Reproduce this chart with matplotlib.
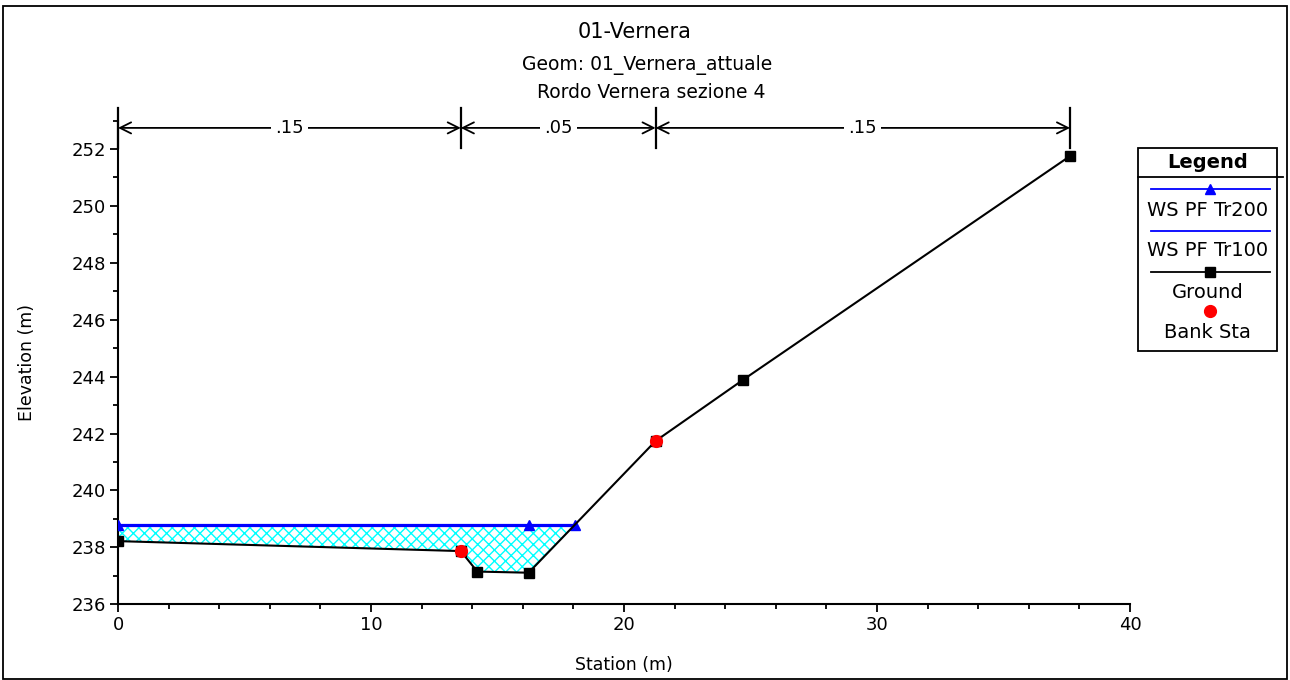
import numpy as np
import matplotlib
matplotlib.use("Agg")
import matplotlib.pyplot as plt
from matplotlib.lines import Line2D
from matplotlib.patches import Rectangle
from matplotlib.transforms import Affine2D
from matplotlib.ticker import MultipleLocator

# ---------------- data ----------------
ground_x = [0.0, 13.55, 14.2, 16.23, 21.25, 24.71, 37.63]
ground_y = [238.22, 237.87, 237.15, 237.11, 241.74, 243.89, 251.75]

bank_x = [13.55, 21.25]
bank_y = [237.87, 241.74]

ws_x = [0.0, 16.23, 18.08]
ws_tr200 = [238.79, 238.79, 238.79]
ws_tr100 = [238.75, 238.75, 238.75]

n_breaks = [0.0, 13.55, 21.25, 37.63]
n_values = [".15", ".05", ".15"]

title = "01-Vernera"
subtitle1 = "Geom: 01_Vernera_attuale"
subtitle2 = "Rordo Vernera sezione 4"
legend_labels = ["WS PF Tr200", "WS PF Tr100", "Ground", "Bank Sta"]

# ---------------- figure ----------------
plt.rcParams['font.family'] = ['DejaVu Sans']
plt.rcParams['hatch.linewidth'] = 1.0
plt.rcParams['hatch.color'] = '#00FFFF'

W, H = 1290, 680
fig = plt.figure(figsize=(W / 100, H / 100), dpi=100)
px = Affine2D().scale(1 / W, -1 / H).translate(0, 1) + fig.transFigure

x0, x1 = 118, 1130
yb, yt = 604.3, 120.5
ax = fig.add_axes([x0 / W, (H - yb) / H, (x1 - x0) / W, (yb - yt) / H])
ax.set_xlim(0, 40)
ax.set_ylim(236, 253.0)

# water fill
gx = np.array(ground_x)
gy = np.array(ground_y)
fx = list(gx[gx < ws_x[-1]]) + [ws_x[-1]]
fy = np.interp(fx, gx, gy)
ax.fill_between(fx, fy, ws_tr200[0], facecolor='none', edgecolor='#00FFFF',
                hatch='xxx', linewidth=0, zorder=1)

# water surfaces
ax.plot(ws_x, ws_tr100, color='#0000FF', lw=1.6, zorder=3)
ax.plot(ws_x, ws_tr200, color='#0000FF', lw=1.6, marker='^', ms=7,
        markerfacecolor='#0000FF', markeredgecolor='#0000FF', zorder=4)

# ground
ax.plot(ground_x, ground_y, color='black', lw=1.5, marker='s', ms=6.5,
        markerfacecolor='black', markeredgecolor='black', zorder=5)
# bank stations
ax.plot(bank_x, bank_y, ls='none', marker='o', ms=8.5,
        markerfacecolor='#FF0000', markeredgecolor='#FF0000', zorder=6)

# manning n indicators
y_arrow = 252.74
for xb in n_breaks:
    ax.plot([xb, xb], [252.03, 253.44], color='black', lw=1.6,
            clip_on=False, zorder=7)
for i, lab in enumerate(n_values):
    a, b = n_breaks[i], n_breaks[i + 1]
    ax.annotate('', xy=(a, y_arrow), xytext=(b, y_arrow),
                arrowprops=dict(arrowstyle='<->', color='black', lw=1.3,
                                shrinkA=0, shrinkB=0, mutation_scale=20),
                annotation_clip=False, zorder=7)
    ax.text((a + b) / 2, y_arrow, lab, ha='center', va='center', fontsize=13,
            bbox=dict(facecolor='white', edgecolor='none', pad=3),
            clip_on=False, zorder=8)

# axes styling
for s in ['top', 'right']:
    ax.spines[s].set_visible(False)
for s in ['left', 'bottom']:
    ax.spines[s].set_linewidth(1.5)
ax.xaxis.set_major_locator(MultipleLocator(10))
ax.xaxis.set_minor_locator(MultipleLocator(2))
ax.yaxis.set_major_locator(MultipleLocator(2))
ax.yaxis.set_minor_locator(MultipleLocator(1))
ax.set_yticks(np.arange(236, 253, 2))
ax.tick_params(which='major', direction='out', length=5.5, width=1.3,
               labelsize=13, pad=3)
ax.tick_params(which='minor', direction='out', length=3.5, width=1.3)
ax.set_xlabel("Station (m)", fontsize=12.5, labelpad=16)
ax.set_ylabel("Elevation (m)", fontsize=12.5, labelpad=26)

# titles
fig.text(635, 32, title, transform=px, ha='center', va='center', fontsize=15)
fig.text(647, 65, subtitle1, transform=px, ha='center', va='center', fontsize=13.5)
fig.text(651, 92, subtitle2, transform=px, ha='center', va='center', fontsize=13.5)

# custom legend
fig.add_artist(Rectangle((1138, 148), 139, 203, transform=px, fill=False,
                         edgecolor='black', lw=1.3))
fig.add_artist(Line2D([1138, 1283], [177, 177], transform=px, color='black', lw=1.3))
fig.text(1207.5, 162, "Legend", transform=px, ha='center', va='center',
         fontsize=14, fontweight='bold')
fig.add_artist(Line2D([1151, 1270], [189, 189], transform=px, color='#0000FF', lw=1.3))
fig.add_artist(Line2D([1210], [189], transform=px, color='#0000FF', marker='^', ms=7))
fig.text(1207.5, 210, legend_labels[0], transform=px, ha='center', va='center', fontsize=14)
fig.add_artist(Line2D([1151, 1270], [231, 231], transform=px, color='#0000FF', lw=1.3))
fig.text(1207.5, 250, legend_labels[1], transform=px, ha='center', va='center', fontsize=14)
fig.add_artist(Line2D([1151, 1270], [272, 272], transform=px, color='black', lw=1.3))
fig.add_artist(Line2D([1210], [272], transform=px, color='black', marker='s', ms=6.5))
fig.text(1207.5, 292, legend_labels[2], transform=px, ha='center', va='center', fontsize=14)
fig.add_artist(Line2D([1210], [311], transform=px, color='#FF0000', marker='o', ms=8.5))
fig.text(1207.5, 332, legend_labels[3], transform=px, ha='center', va='center', fontsize=14)

# outer border
fig.add_artist(Rectangle((3, 6), 1284, 673, transform=px, fill=False,
                         edgecolor='black', lw=1.3))

fig.savefig("out.png", dpi=100)
